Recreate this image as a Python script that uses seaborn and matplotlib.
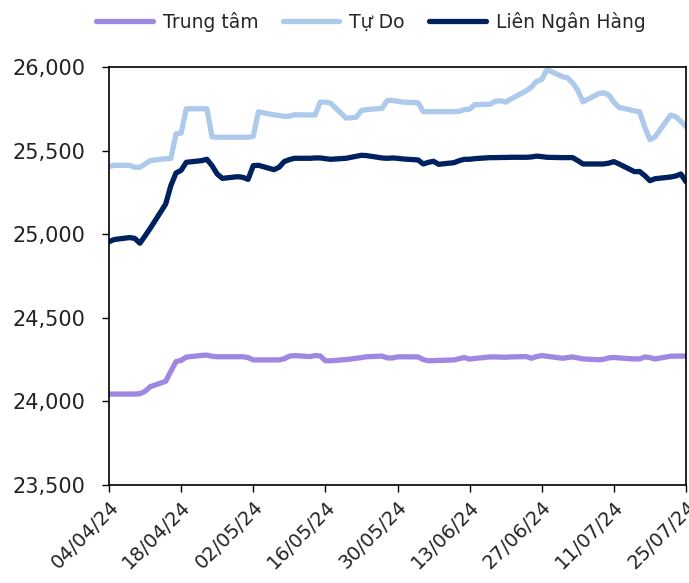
import numpy as np
import pandas as pd
import matplotlib
matplotlib.use("Agg")
import matplotlib.pyplot as plt
import matplotlib.dates as mdates
import seaborn as sns

dates = pd.bdate_range("2024-04-04", "2024-07-25")

trung_tam = [
    24044, 24044,
    24044, 24044, 24046, 24060, 24088,
    24120, 24180, 24238, 24245, 24265,
    24275, 24277, 24270, 24267, 24267,
    24267, 24267, 24262, 24248, 24248,
    24248, 24248, 24255, 24270, 24274,
    24268, 24274, 24272, 24243, 24243,
    24250, 24254, 24258, 24262, 24267,
    24271, 24260, 24260, 24266, 24267,
    24266, 24250, 24243, 24244, 24245,
    24248, 24256, 24262, 24253, 24257,
    24266, 24266, 24265, 24264, 24266,
    24268, 24258, 24268, 24274, 24270,
    24258, 24262, 24266, 24260, 24254,
    24249, 24252, 24260, 24263, 24260,
    24254, 24254, 24266, 24262, 24254,
    24270, 24271, 24271, 24271,
]

tu_do = [
    25405, 25412,
    25412, 25400, 25400, 25420, 25440,
    25452, 25452, 25600, 25605, 25750,
    25750, 25750, 25582, 25580, 25580,
    25580, 25580, 25580, 25585, 25732,
    25714, 25710, 25704, 25706, 25714,
    25713, 25713, 25790, 25790, 25784,
    25695, 25696, 25700, 25740, 25745,
    25753, 25800, 25800, 25795, 25790,
    25786, 25733, 25733, 25733, 25733,
    25733, 25735, 25745, 25748, 25775,
    25777, 25795, 25798, 25790, 25808,
    25858, 25880, 25915, 25925, 25985,
    25942, 25935, 25905, 25860, 25792,
    25840, 25846, 25833, 25790, 25758,
    25738, 25732, 25640, 25565, 25582,
    25712, 25703, 25675, 25643,
]

lien_ngan_hang = [
    24955, 24968,
    24980, 24975, 24946, 24990, 25035,
    25180, 25290, 25366, 25382, 25430,
    25440, 25448, 25410, 25360, 25334,
    25344, 25340, 25328, 25410, 25412,
    25386, 25400, 25434, 25446, 25454,
    25454, 25456, 25456, 25452, 25448,
    25454, 25460, 25466, 25472, 25470,
    25456, 25454, 25456, 25454, 25450,
    25444, 25420, 25430, 25436, 25418,
    25428, 25440, 25448, 25448, 25452,
    25458, 25458, 25459, 25459, 25460,
    25460, 25462, 25467, 25464, 25460,
    25458, 25458, 25458, 25440, 25420,
    25420, 25420, 25425, 25434, 25420,
    25374, 25375, 25350, 25320, 25332,
    25342, 25348, 25360, 25314,
]

series_names = ["Trung tâm", "Tự Do", "Liên Ngân Hàng"]
colors = ["#9F88E2", "#ADC9EC", "#00215F"]
y_ticks = [23500, 24000, 24500, 25000, 25500, 26000]
x_ticks = pd.date_range("2024-04-04", "2024-07-25", freq="14D")

df = pd.DataFrame({
    "date": list(dates) * 3,
    "value": trung_tam + tu_do + lien_ngan_hang,
    "series": [series_names[0]] * len(dates) + [series_names[1]] * len(dates) + [series_names[2]] * len(dates),
})

sns.set_theme(style="white")
plt.rcParams["font.family"] = ["DejaVu Sans"]

fig = plt.figure(figsize=(6.89, 5.83), dpi=100)
ax = fig.add_axes([109 / 689, 1 - 485 / 583, (686 - 109) / 689, (485 - 67) / 583])

sns.lineplot(data=df, x="date", y="value", hue="series", hue_order=series_names,
             palette=colors, linewidth=3.8, ax=ax, legend=True)

ax.set_xlim(pd.Timestamp("2024-04-04"), pd.Timestamp("2024-07-25"))
ax.set_ylim(23500, 26000)
ax.set_yticks(y_ticks)
ax.set_yticklabels([f"{v:,}" for v in y_ticks], fontsize=15, color="#222222")
ax.set_xticks(x_ticks)
ax.set_xticklabels([d.strftime("%d/%m/%y") for d in x_ticks], rotation=45,
                   ha="right", rotation_mode="anchor", fontsize=14, color="#222222")
ax.set_xlabel("")
ax.set_ylabel("")
for s in ax.spines.values():
    s.set_visible(True)
    s.set_color("black")
    s.set_linewidth(1.2)
ax.tick_params(axis="both", which="major", direction="out", length=5, width=1,
               color="black", left=True, bottom=True)
ax.tick_params(axis="y", pad=12)
ax.tick_params(axis="x", pad=4)
ax.grid(False)

handles, labels = ax.get_legend_handles_labels()
ax.legend(handles, labels, loc="center", bbox_to_anchor=(0.454, 1.108),
          ncol=3, frameon=False, fontsize=13.5, handlelength=3.0,
          columnspacing=1.3, handletextpad=0.55)

fig.savefig("out.png", dpi=100)
